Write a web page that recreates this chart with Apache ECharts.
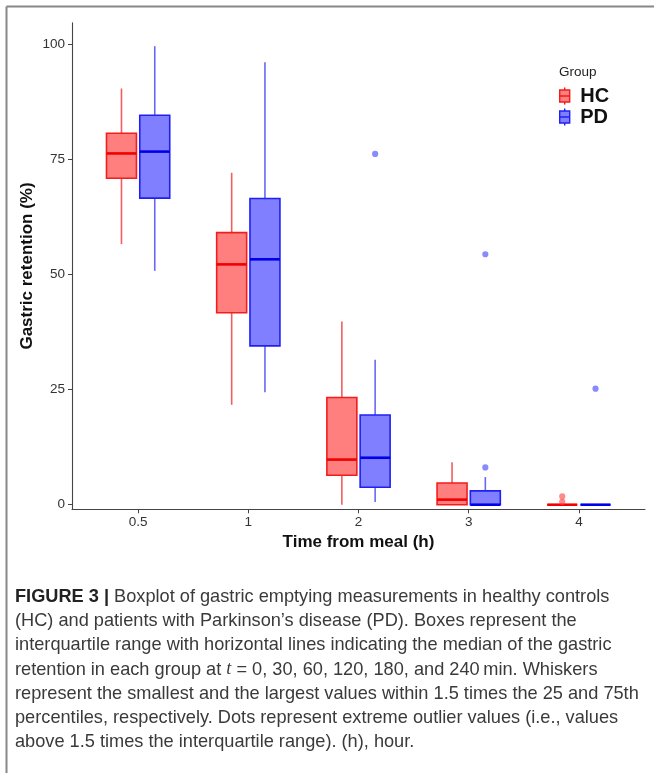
<!DOCTYPE html>
<html><head><meta charset="utf-8">
<script src="https://cdn.jsdelivr.net/npm/echarts@6/dist/echarts.min.js"></script>
<style>html,body{margin:0;padding:0;background:#fff}#c{width:654px;height:773px}</style>
</head><body><div id="c"></div>
<script>
// Categories (time from meal, h)
const categories = ['0.5', '1', '2', '3', '4'];
// Each box: [lower whisker, Q1, median, Q3, upper whisker] (gastric retention %)
const hcBoxes = [
  [56.6, 70.9, 76.3, 80.7, 90.4],
  [21.7, 41.7, 52.2, 59.1, 72.1],
  [0.0, 6.4, 9.8, 23.3, 39.8],
  [0.0, 0.0, 1.1, 4.7, 9.2],
  [0.0, 0.0, 0.0, 0.0, 0.0]
];
const pdBoxes = [
  [50.8, 66.6, 76.7, 84.6, 99.6],
  [24.4, 34.5, 53.3, 66.5, 96.1],
  [0.6, 3.8, 10.2, 19.5, 31.5],
  [0.0, 0.0, 0.0, 3.0, 6.0],
  [0.0, 0.0, 0.0, 0.0, 0.0]
];
// Outliers: [category index, value]
const hcOutliers = [[4, 1.8], [4, 0.6]];
const pdOutliers = [[2, 76.2], [3, 54.4], [3, 8.1], [4, 25.2]];
const yTicks = [0, 25, 50, 75, 100];
const xTicks = [0, 1, 2, 3, 4];
const captionLines = [
  '{b|FIGURE 3 |} Boxplot of gastric emptying measurements in healthy controls',
  '(HC) and patients with Parkinson\u2019s disease (PD). Boxes represent the',
  'interquartile range with horizontal lines indicating the median of the gastric',
  'retention in each group at {i|t} = 0, 30, 60, 120, 180, and 240\u2009min. Whiskers',
  'represent the smallest and the largest values within 1.5 times the 25 and 75th',
  'percentiles, respectively. Dots represent extreme outlier values (i.e., values',
  'above 1.5 times the interquartile range). (h), hour.'
];

const HC = {stroke: '#f21d1d', fill: 'rgba(255,0,0,0.5)', whisk: 'rgba(235,40,40,0.75)', median: '#f00000', pt: 'rgba(255,60,60,0.6)'};
const PD = {stroke: '#2020f5', fill: 'rgba(0,0,255,0.5)', whisk: 'rgba(40,40,240,0.7)', median: '#0000e8', pt: 'rgba(60,60,255,0.6)'};
const FONT = 'Liberation Sans, Arial, sans-serif';

function boxRenderer(side, c) {
  return function (params, api) {
    const i = api.value(0);
    const band = api.size([1, 0])[0];
    const cx = api.coord([i, 0])[0] + side * band * 0.151;
    const w = band * 0.272;
    const yLo = api.coord([i, api.value(1)])[1];
    const yQ1 = api.coord([i, api.value(2)])[1];
    const yMed = api.coord([i, api.value(3)])[1];
    const yQ3 = api.coord([i, api.value(4)])[1];
    const yHi = api.coord([i, api.value(5)])[1];
    return {type: 'group', children: [
      {type: 'line', shape: {x1: cx, y1: yHi, x2: cx, y2: yQ3}, style: {stroke: c.whisk, lineWidth: 1.6}},
      {type: 'line', shape: {x1: cx, y1: yQ1, x2: cx, y2: yLo}, style: {stroke: c.whisk, lineWidth: 1.6}},
      {type: 'rect', shape: {x: cx - w / 2, y: yQ3, width: w, height: yQ1 - yQ3}, style: {fill: c.fill, stroke: c.stroke, lineWidth: 1.6}},
      {type: 'line', shape: {x1: cx - w / 2, y1: yMed, x2: cx + w / 2, y2: yMed}, style: {stroke: c.median, lineWidth: 2.6}}
    ]};
  };
}
function pointRenderer(side, c) {
  return function (params, api) {
    const i = api.value(0);
    const band = api.size([1, 0])[0];
    const p = api.coord([i, api.value(1)]);
    return {type: 'circle', shape: {cx: p[0] + side * band * 0.151, cy: p[1], r: 3.1}, style: {fill: c.pt}};
  };
}

const chart = echarts.init(document.getElementById('c'), null, {renderer: 'canvas'});
const iconPath = 'path://M5,0L5,2.5M0,2.5L10,2.5L10,14.5L0,14.5ZM0,8.5L10,8.5M5,14.5L5,17';
const CAP = 18.2;
const captionGraphics = captionLines.map((t, k) => ({
  type: 'text', left: 15, top: 588 + k * 24.2,
  style: {
    text: t, fill: '#3a3a3a', fontSize: CAP, fontFamily: FONT,
    rich: {b: {fontWeight: 'bold', fontSize: CAP, fill: '#222', fontFamily: FONT},
           i: {fontStyle: 'italic', fontSize: CAP, fill: '#3a3a3a', fontFamily: 'Liberation Serif, serif'}}
  }
}));

chart.setOption({
  animation: false,
  backgroundColor: '#fff',
  grid: {left: 72, right: 9, top: 22.7, bottom: 263.7},
  xAxis: {
    type: 'value', min: -0.6, max: 4.6,
    name: 'Time from meal (h)', nameLocation: 'middle', nameGap: 23,
    nameTextStyle: {fontSize: 17, fontWeight: 'bold', color: '#111', fontFamily: FONT},
    axisLine: {onZero: false, lineStyle: {color: '#444', width: 1.1}},
    axisTick: {customValues: xTicks, length: 4, lineStyle: {color: '#444'}},
    axisLabel: {customValues: xTicks, formatter: v => categories[v], fontSize: 13.5, color: '#333', margin: 6, fontFamily: FONT},
    splitLine: {show: false}
  },
  yAxis: {
    type: 'value', min: -1, max: 104.7,
    name: 'Gastric retention (%)', nameLocation: 'middle', nameGap: 36, nameMoveOverlap: false,
    nameTextStyle: {fontSize: 17, fontWeight: 'bold', color: '#111', fontFamily: FONT},
    axisLine: {show: true, onZero: false, lineStyle: {color: '#444', width: 1.1}},
    axisTick: {show: true, customValues: yTicks, length: 4, lineStyle: {color: '#444'}},
    axisLabel: {customValues: yTicks, fontSize: 13.5, color: '#333', margin: 7, fontFamily: FONT},
    splitLine: {show: false}
  },
  legend: {
    orient: 'vertical', left: 559, top: 86, padding: 0,
    itemWidth: 11, itemHeight: 17, itemGap: 1, selectedMode: false,
    textStyle: {fontSize: 20, fontWeight: 'bold', color: '#111', lineHeight: 20, padding: [0, 0, 0, 5], fontFamily: FONT},
    data: [
      {name: 'HC', icon: iconPath, itemStyle: {color: HC.fill, borderColor: HC.stroke, borderWidth: 1.4}},
      {name: 'PD', icon: iconPath, itemStyle: {color: PD.fill, borderColor: PD.stroke, borderWidth: 1.4}}
    ]
  },
  graphic: [
    {type: 'line', shape: {x1: 6.5, y1: 6.5, x2: 660, y2: 6.5}, style: {stroke: '#888', lineWidth: 2}},
    {type: 'line', shape: {x1: 6.5, y1: 6.5, x2: 6.5, y2: 780}, style: {stroke: '#888', lineWidth: 2}},
    {type: 'text', left: 559, top: 65, style: {text: 'Group', fontSize: 13.5, fill: '#222', fontFamily: FONT}}
  ].concat(captionGraphics),
  series: [
    {name: 'HC', type: 'custom', renderItem: boxRenderer(-1, HC), data: hcBoxes.map((b, i) => [i].concat(b)),
     encode: {x: 0, y: [1, 2, 3, 4, 5]}, itemStyle: {color: HC.fill}},
    {name: 'PD', type: 'custom', renderItem: boxRenderer(1, PD), data: pdBoxes.map((b, i) => [i].concat(b)),
     encode: {x: 0, y: [1, 2, 3, 4, 5]}, itemStyle: {color: PD.fill}},
    {name: 'HC outliers', type: 'custom', renderItem: pointRenderer(-1, HC), data: hcOutliers, encode: {x: 0, y: 1}},
    {name: 'PD outliers', type: 'custom', renderItem: pointRenderer(1, PD), data: pdOutliers, encode: {x: 0, y: 1}}
  ]
});
</script></body></html>
